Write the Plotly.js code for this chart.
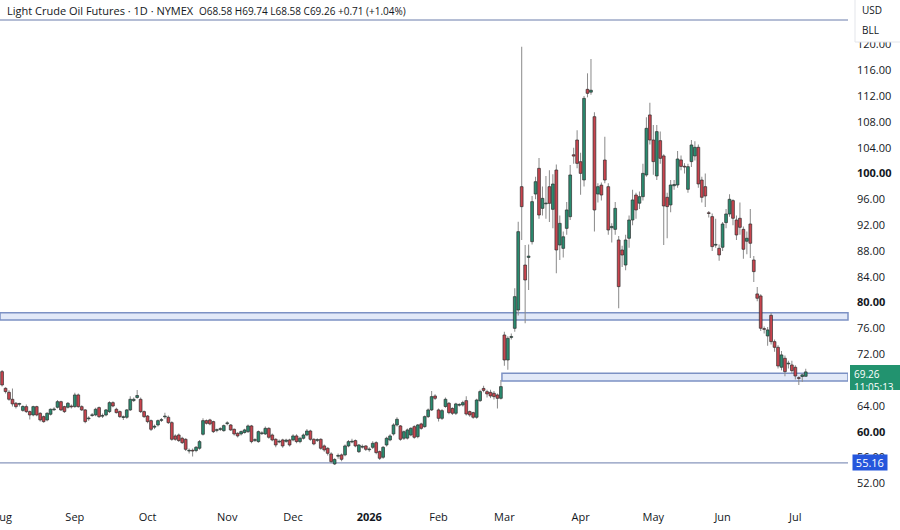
<!DOCTYPE html>
<html>
<head>
<meta charset="utf-8">
<script src="https://cdn.plot.ly/plotly-3.0.1.min.js"></script>
<style>html,body{margin:0;padding:0;background:#fff;}#chart{width:900px;height:530px;}</style>
</head>
<body>
<div id="chart"></div>
<script>
// ---------- DATA ----------
const startDate = '2025-08-01';
const holidays = ['2025-09-01','2025-11-27','2025-12-25','2026-01-01','2026-01-19','2026-02-16','2026-04-03','2026-05-25','2026-06-19'];
const monthNames = ['Jan','Feb','Mar','Apr','May','Jun','Jul','Aug','Sep','Oct','Nov','Dec'];

const open = [69.30,66.72,66.10,65.02,64.40,64.25,63.30,63.88,63.11,62.59,63.88,62.85,62.33,61.82,62.70,63.40,63.78,64.65,63.88,63.78,
63.95,63.88,65.69,63.88,63.37,62.00,62.50,62.59,63.73,62.40,62.59,63.11,64.50,63.47,63.11,62.20,62.23,63.37,64.82,65.30,
65.02,63.11,62.43,61.71,60.70,61.04,61.75,62.30,62.23,61.40,59.34,59.49,58.98,58.82,57.00,57.10,57.07,57.43,59.60,61.71,
61.82,61.56,60.20,60.35,60.16,61.25,61.04,60.37,59.75,59.65,59.86,60.01,60.89,58.65,58.46,59.70,59.65,60.52,59.49,58.82,
58.40,58.72,58.50,58.72,58.72,59.34,58.46,58.98,59.49,60.11,58.82,58.65,58.82,57.79,57.43,56.55,55.00,56.20,56.40,56.40,
57.79,58.40,58.62,56.90,57.60,57.79,57.20,57.58,58.30,56.91,56.04,57.94,58.72,59.65,61.04,60.89,58.98,59.00,59.49,60.78,
59.23,61.20,60.78,62.33,63.37,65.53,63.37,62.07,63.90,64.40,63.60,62.85,64.10,64.14,64.81,63.11,62.95,62.23,64.81,66.70,
66.20,66.10,65.95,65.69,65.17,74.98,71.11,74.60,76.01,78.85,97.96,85.82,87.00,89.44,96.82,100.80,94.60,95.30,97.96,94.45,
100.54,88.92,88.40,91.50,93.31,102.90,105.19,101.83,99.00,113.04,112.60,108.80,96.82,98.20,102.09,97.96,91.60,91.35,89.70,88.15,
85.82,89.96,92.80,96.67,95.40,96.41,99.77,109.07,105.19,99.62,105.09,102.72,96.31,95.13,98.10,98.22,102.10,101.10,97.55,101.84,
102.72,104.06,98.99,97.96,93.90,93.32,88.90,88.41,88.57,92.39,93.73,95.80,92.80,93.06,91.35,89.50,92.18,86.60,81.34,81.03,
75.90,74.83,78.03,73.95,73.07,69.98,71.37,70.50,70.34,69.98,68.30,68.55,68.58];

const high = [69.56,66.90,66.40,66.70,64.60,64.50,64.10,64.20,63.30,64.00,64.00,63.00,62.50,63.00,63.60,63.80,64.90,64.80,64.00,64.60,
64.20,66.05,65.90,64.10,63.50,62.40,62.90,63.70,63.90,62.80,63.50,64.70,64.70,63.70,63.30,62.50,63.50,65.50,65.30,66.46,
65.30,63.30,62.60,61.90,61.10,61.90,62.10,62.95,62.50,61.60,59.60,59.70,59.20,59.00,57.40,57.40,57.80,58.70,62.07,61.90,
62.00,61.70,60.50,60.70,61.10,61.60,61.20,60.50,59.90,60.20,60.45,61.10,61.05,59.00,60.20,60.05,60.80,60.70,59.70,59.00,
58.80,58.90,58.90,58.90,59.60,59.60,59.20,59.70,60.40,60.30,59.00,59.00,59.00,58.00,57.60,56.80,55.90,56.60,56.60,58.00,
58.70,58.90,58.80,58.10,58.00,57.90,57.60,58.50,58.50,57.10,57.80,59.20,59.60,61.30,62.23,61.05,60.20,60.50,60.70,61.00,
61.20,61.40,62.50,63.60,66.30,65.80,63.60,63.50,65.30,64.60,63.80,64.50,64.40,64.80,65.50,63.30,63.10,65.10,66.50,67.10,
66.50,66.50,66.30,65.90,68.00,75.50,74.80,75.20,82.21,92.54,119.65,88.92,89.00,96.50,99.50,102.40,98.00,99.60,100.50,99.90,
101.40,93.50,91.00,95.60,101.30,104.00,106.70,103.20,112.00,115.52,117.74,109.50,98.50,98.60,105.70,98.50,92.30,95.60,90.30,88.80,
90.50,93.50,97.50,97.00,97.20,101.50,108.70,110.98,107.50,107.50,106.50,103.00,97.00,99.00,99.00,103.50,102.80,101.60,101.50,105.20,
105.00,104.50,99.50,100.00,94.20,93.80,93.00,89.00,92.50,94.50,96.80,96.00,93.50,95.50,91.80,91.00,94.50,87.20,82.40,81.30,
76.30,76.20,78.40,74.30,73.40,72.50,71.80,71.00,71.00,70.30,68.60,69.00,69.74];

const low = [67.00,65.90,64.80,63.90,63.60,63.90,63.10,62.90,61.90,62.40,62.40,61.56,61.40,61.60,62.50,63.20,63.60,63.20,62.90,63.60,
63.60,63.70,63.70,63.20,61.30,61.70,62.30,62.40,62.10,62.10,62.40,62.90,63.80,62.80,62.10,61.80,62.00,63.20,64.60,65.10,
62.90,62.10,61.30,60.10,60.40,60.80,61.50,62.00,61.20,58.60,58.60,58.40,58.10,57.00,56.60,56.14,56.80,57.20,59.40,61.10,
61.00,59.80,59.90,60.10,60.00,61.00,60.10,59.40,59.10,59.40,59.70,59.80,58.20,58.40,58.30,59.50,59.50,58.90,58.50,57.60,
58.20,57.50,58.30,57.70,58.50,58.20,58.20,58.80,59.30,58.60,57.90,58.40,57.20,56.90,56.30,55.10,54.84,55.80,55.40,56.20,
57.60,58.20,57.60,56.70,57.40,57.00,56.90,57.30,56.50,55.60,55.80,57.70,58.50,59.40,60.80,58.60,58.70,58.80,59.30,58.90,
59.00,60.30,60.60,62.10,63.20,64.90,61.56,61.80,63.70,62.70,62.60,62.60,63.90,63.90,62.50,62.30,62.00,62.00,64.60,66.10,
65.30,65.20,65.00,63.60,65.00,70.20,69.60,74.30,75.50,78.00,89.70,76.79,81.95,89.00,96.00,93.00,93.50,93.00,92.50,91.50,
84.53,86.60,87.00,90.50,92.80,101.50,100.80,96.70,98.00,111.80,112.20,91.00,95.50,95.80,98.50,90.50,89.30,90.50,79.11,85.50,
85.00,88.50,92.00,93.00,94.50,95.80,99.50,104.50,99.80,99.00,101.50,88.93,89.96,94.00,97.50,97.80,100.50,100.00,97.00,101.00,
102.00,97.80,95.50,94.80,93.20,88.00,88.50,86.50,88.00,91.50,93.30,92.00,89.70,90.50,86.80,87.50,86.90,83.20,80.20,75.60,
75.20,73.30,73.50,72.40,69.80,69.50,68.60,69.80,69.00,68.10,67.24,67.70,68.58];

const close = [67.24,66.21,65.02,64.30,63.88,64.35,63.90,63.11,62.59,63.88,62.59,61.82,61.56,62.85,63.47,63.50,64.65,63.37,63.11,64.40,
63.85,65.69,63.88,63.37,61.56,62.10,62.60,63.47,62.33,62.50,63.37,64.50,63.98,62.95,62.33,62.25,63.37,65.02,65.02,65.60,
63.11,62.33,61.56,60.37,60.85,61.71,61.85,62.35,61.40,58.82,58.82,58.62,58.30,57.27,57.10,57.00,57.58,58.46,61.71,61.30,
61.20,60.01,60.27,60.42,60.94,61.30,60.27,59.65,59.34,60.01,60.27,60.89,58.46,58.75,60.01,59.80,60.52,59.13,58.72,57.94,
58.50,57.79,58.70,57.94,59.34,58.46,58.98,59.49,60.11,58.82,58.10,58.72,57.43,57.17,56.65,55.36,55.70,56.25,55.72,57.79,
58.46,58.50,57.79,57.94,57.70,57.27,57.25,58.20,56.76,55.88,57.58,58.98,59.34,61.04,61.92,58.82,60.00,60.27,60.52,59.13,
61.04,60.52,62.33,63.37,65.43,65.17,62.07,63.26,65.02,62.95,62.85,64.30,64.15,64.50,62.74,62.59,62.23,64.91,66.21,66.40,
65.85,65.53,65.43,65.17,66.98,71.11,74.46,74.75,80.92,90.99,94.86,83.50,87.20,95.64,98.73,93.57,96.15,95.40,95.38,98.37,
88.15,92.28,90.20,94.35,99.77,102.70,101.57,100.02,111.64,112.42,112.90,94.35,97.96,96.67,98.99,91.25,91.80,94.60,82.47,87.37,
89.70,92.80,95.90,94.35,96.41,100.02,107.00,105.19,101.84,106.49,102.35,94.97,94.87,98.22,98.30,102.25,101.10,101.00,101.06,104.42,
104.06,98.38,96.31,96.52,93.80,88.67,88.95,87.38,92.18,93.73,96.00,93.06,90.48,91.66,88.26,89.97,89.19,84.80,80.67,76.02,
75.85,75.76,73.95,73.07,70.18,71.89,69.30,70.60,69.46,68.63,68.25,68.80,69.26];

const yTicks = [52,56,60,64,72,76,80,84,88,92,96,100,104,108,112,116,120];
const boldTicks = [60,80,100];
const resistanceZone = [77.30, 78.44];
const supportZone = [67.85, 69.05];
const topLevel = 123.78;
const lowLevel = 55.16;
const zoneStartDate = '2026-02-27';
const titleText = 'Light Crude Oil Futures · 1D · NYMEX';
const ohlcText = 'O68.58 H69.74 L68.58 C69.26 +0.71 (+1.04%)';
const countdown = '11:05:13';

// ---------- DATES (trading days) ----------
const dates = [];
{
  let d = new Date(startDate + 'T00:00:00Z');
  while (dates.length < close.length) {
    const s = d.toISOString().slice(0,10);
    const wd = d.getUTCDay();
    if (wd !== 0 && wd !== 6 && holidays.indexOf(s) < 0) dates.push(s);
    d = new Date(d.getTime() + 86400000);
  }
}
const tickvals = [], ticktext = [];
dates.forEach((s, i) => {
  const m = +s.slice(5,7);
  if (i === 0 || m !== +dates[i-1].slice(5,7)) {
    tickvals.push(s);
    ticktext.push(m === 1 ? '<b>' + s.slice(0,4) + '</b>' : monthNames[m-1]);
  }
});

// ---------- STYLE ----------
const FONT = 'Open Sans, Noto Sans, sans-serif';
const TXT = '#131722';
const UP = '#2a8c70', DOWN = '#c9444e';
const xr = [-0.6, 244.2];
const yr = [48.64, 126.88];
const plotH = 505, plotW = 848;
const pyOf = p => (yr[1]-p)/(yr[1]-yr[0])*plotH;
const paperOfPy = py => 1 - py/plotH;

const bases = open.map((o,i) => Math.min(o, close[i]));
const heights = open.map((o,i) => Math.max(Math.abs(close[i]-o), 0.12));
const colors = open.map((o,i) => close[i] >= o ? UP : DOWN);
const wickLen = high.map((h,i) => h - low[i]);

const wicks = {
  type: 'bar', x: dates, y: wickLen, base: low, width: 0.3,
  marker: {color: '#8e8e8e', line: {width: 0}},
  hoverinfo: 'skip', showlegend: false
};
const bodies = {
  type: 'bar', x: dates, y: heights, base: bases, width: 0.8,
  marker: {color: colors, line: {color: '#2e2e2e', width: 0.7}},
  hoverinfo: 'skip', showlegend: false
};

const zoneFill = 'rgba(190,206,240,0.45)';
const zoneLine = '#7c91c4';
const lastP = close[close.length-1];
const lastPy = pyOf(lastP);

const shapes = [
  {type:'line', xref:'paper', yref:'y', x0:0, x1:1, y0:topLevel, y1:topLevel, line:{color:'#6a7cab', width:1}, layer:'below'},
  {type:'rect', xref:'paper', yref:'y', x0:0, x1:1, y0:resistanceZone[0], y1:resistanceZone[1], fillcolor:zoneFill, line:{color:zoneLine, width:1.5}, layer:'below'},
  {type:'rect', xref:'x', yref:'y', x0:dates.indexOf(zoneStartDate)+0.3, x1:xr[1], y0:supportZone[0], y1:supportZone[1], fillcolor:zoneFill, line:{color:zoneLine, width:1.5}, layer:'below'},
  {type:'line', xref:'paper', yref:'y', x0:0, x1:1, y0:lowLevel, y1:lowLevel, line:{color:'#6a7cab', width:1}, layer:'below'},
  // last price label box
  {type:'rect', xref:'paper', yref:'paper', x0:1+2/plotW, x1:1+53/plotW, y0:paperOfPy(lastPy+18), y1:paperOfPy(lastPy-7), fillcolor:'#22936f', line:{width:0}, layer:'above'},
  // currency box
  {type:'rect', xref:'paper', yref:'paper', x0:1+7/plotW, x1:1+60/plotW, y0:paperOfPy(42), y1:paperOfPy(-2), fillcolor:'#ffffff', line:{color:'#e3e5ea', width:1}, layer:'above'}
];

const annotations = [
  {xref:'paper', yref:'paper', x:0, y:paperOfPy(10), xanchor:'left', yanchor:'middle', xshift:5, showarrow:false,
   text: titleText + '&nbsp; <span style="font-size:10px">' + ohlcText + '</span>', font:{family:FONT, size:11, color:TXT}},
  {xref:'paper', yref:'paper', x:1, y:paperOfPy(lastPy-7), xanchor:'left', yanchor:'top', xshift:4, showarrow:false, align:'left',
   text: lastP.toFixed(2) + '<br>' + countdown, font:{family:FONT, size:10, color:'#ffffff'}},
  {xref:'paper', yref:'y', x:1, y:lowLevel, xanchor:'left', yanchor:'middle', xshift:4, showarrow:false,
   text: '&nbsp;' + lowLevel.toFixed(2) + '&nbsp;', bgcolor:'#2556dc', borderpad:0, font:{family:FONT, size:11, color:'#ffffff'}},
  {xref:'paper', yref:'paper', x:1, y:paperOfPy(10), xanchor:'left', yanchor:'middle', xshift:12, showarrow:false,
   text:'USD', font:{family:FONT, size:10, color:TXT}},
  {xref:'paper', yref:'paper', x:1, y:paperOfPy(30), xanchor:'left', yanchor:'middle', xshift:12, showarrow:false,
   text:'BLL', font:{family:FONT, size:10, color:TXT}}
];

const layout = {
  width: 900, height: 530,
  margin: {l:0, r:52, t:0, b:25, pad:0},
  paper_bgcolor: '#ffffff', plot_bgcolor: 'rgba(0,0,0,0)',
  barmode: 'overlay', showlegend: false,
  xaxis: {type:'category', range:xr, tickmode:'array', tickvals, ticktext,
          showgrid:false, zeroline:false, showline:false, ticks:'', ticklabelstandoff: 4,
          tickfont:{family:FONT, size:11, color:TXT}, fixedrange:true},
  yaxis: {side:'right', range:yr, tickmode:'array', tickvals:yTicks,
          ticktext: yTicks.map(v => boldTicks.indexOf(v) >= 0 ? '<b>' + v.toFixed(2) + '</b>' : v.toFixed(2)),
          showgrid:false, zeroline:false, showline:false, ticks:'', ticklabelstandoff: 8,
          tickfont:{family:FONT, size:11, color:TXT}, fixedrange:true},
  shapes, annotations
};

Plotly.newPlot('chart', [wicks, bodies], layout, {displayModeBar:false, staticPlot:true});
</script>
</body>
</html>
